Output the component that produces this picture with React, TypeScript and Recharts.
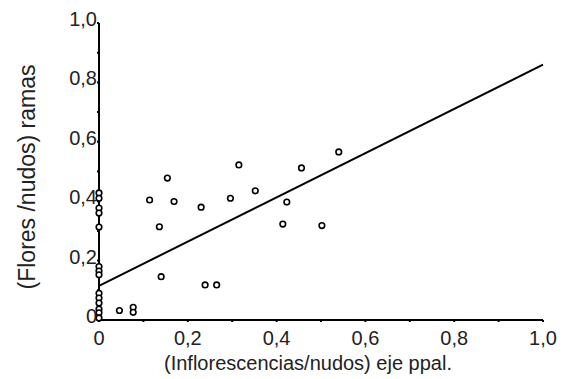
import { ScatterChart, Scatter, XAxis, YAxis, ReferenceLine } from 'recharts';

// puntos sobre el eje (x = 0)
const zeroY = [0.428, 0.41, 0.377, 0.36, 0.313, 0.18, 0.165, 0.152, 0.09, 0.074, 0.057, 0.037, 0.024, 0.007];

const xVals = [0.046, 0.077, 0.077, 0.114, 0.136, 0.14, 0.154, 0.169, 0.23, 0.239, 0.265, 0.296, 0.315, 0.352, 0.414, 0.423, 0.456, 0.502, 0.54];
const yVals = [0.032, 0.043, 0.026, 0.404, 0.314, 0.146, 0.478, 0.399, 0.38, 0.118, 0.118, 0.41, 0.522, 0.435, 0.323, 0.397, 0.512, 0.318, 0.566];

const TICKS = [0, 0.1, 0.2, 0.3, 0.4, 0.5, 0.6, 0.7, 0.8, 0.9, 1];

// recta de regresion
const INTERCEPT = 0.115;
const SLOPE = 0.745;

const FONT = '"Liberation Sans", Arial, sans-serif';

const points = [
  ...zeroY.map((y) => ({ x: 0, y })),
  ...xVals.map((x, i) => ({ x, y: yVals[i] }))
];

const fmt = (v: number) => (v === 0 ? '0' : v.toFixed(1).replace('.', ','));
const isMajor = (v: number) => Math.round(v * 10) % 2 === 0;

const XTick = ({ x, y, payload }: any) => {
  if (!isMajor(payload.value)) return null;
  return (
    <text x={x} y={y + 21} textAnchor="middle" fontSize={20} fontFamily={FONT} fill="#222">
      {fmt(payload.value)}
    </text>
  );
};

const YTick = ({ y, payload }: any) => {
  if (!isMajor(payload.value)) return null;
  return (
    <text x={97} y={y + 3} textAnchor="end" fontSize={20} fontFamily={FONT} fill="#222">
      {fmt(payload.value)}
    </text>
  );
};

const Ring = ({ cx, cy }: any) => (
  <circle cx={cx} cy={cy} r={2.8} fill="#fff" stroke="#000" strokeWidth={1.6} />
);

export default function App() {
  return (
    <div style={{ position: 'absolute', left: 0, top: 0, background: '#fff' }}>
      <ScatterChart width={571} height={379} margin={{ top: 23, right: 28, left: 29, bottom: 9 }}>
        <XAxis
          type="number"
          dataKey="x"
          domain={[0, 1]}
          ticks={TICKS}
          tick={<XTick />}
          tickSize={2}
          axisLine={{ stroke: '#000', strokeWidth: 2 }}
          tickLine={{ stroke: '#000', strokeWidth: 2 }}
          height={50}
          interval={0}
        />
        <YAxis
          type="number"
          dataKey="y"
          domain={[0, 1]}
          ticks={TICKS}
          tick={<YTick />}
          tickSize={2}
          axisLine={{ stroke: '#000', strokeWidth: 2 }}
          tickLine={{ stroke: '#000', strokeWidth: 2 }}
          width={70}
          interval={0}
        />
        <ReferenceLine
          segment={[{ x: 0, y: INTERCEPT }, { x: 1, y: INTERCEPT + SLOPE }]}
          stroke="#000"
          strokeWidth={2}
          ifOverflow="extendDomain"
        />
        <Scatter data={points} shape={<Ring />} isAnimationActive={false} />
        <text x={308} y={370} textAnchor="middle" fontSize={20} fontFamily={FONT} fill="#222">
          (Inflorescencias/nudos) eje ppal.
        </text>
        <text
          x={35}
          y={177}
          textAnchor="middle"
          fontSize={23}
          fontFamily={FONT}
          fill="#222"
          transform="rotate(-90 35 177)"
        >
          (Flores /nudos) ramas
        </text>
      </ScatterChart>
    </div>
  );
}
